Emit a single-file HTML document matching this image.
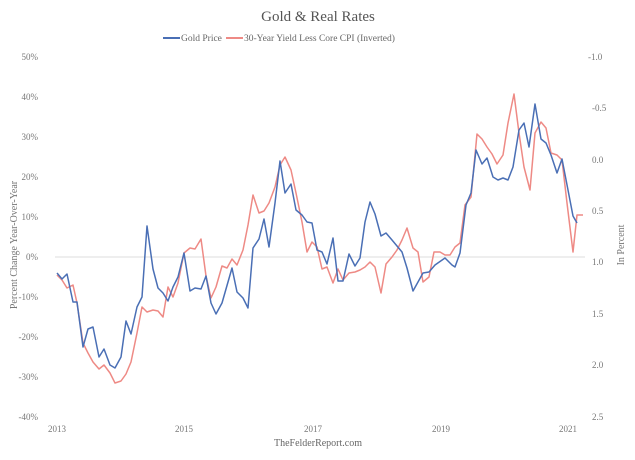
<!DOCTYPE html>
<html><head><meta charset="utf-8"><style>
html,body{margin:0;padding:0;background:#fff;}
svg{display:block;font-family:"Liberation Serif",serif;}
</style></head><body>
<svg width="635" height="460" viewBox="0 0 635 460">
<rect width="635" height="460" fill="#fff"/>
<text x="318" y="21" text-anchor="middle" font-size="15" fill="#555">Gold &amp; Real Rates</text>
<line x1="163" y1="38" x2="180" y2="38" stroke="#4a6fb5" stroke-width="2"/>
<text x="181" y="41" font-size="9.5" fill="#666">Gold Price</text>
<line x1="226" y1="38" x2="243" y2="38" stroke="#ee8a85" stroke-width="2"/>
<text x="244" y="41" font-size="9.5" fill="#666">30-Year Yield Less Core CPI (Inverted)</text>
<g font-size="9" fill="#777" text-anchor="end">
<text x="38" y="60">50%</text><text x="38" y="100">40%</text><text x="38" y="140">30%</text>
<text x="38" y="180">20%</text><text x="38" y="220">10%</text><text x="38" y="260">0%</text>
<text x="38" y="300">-10%</text><text x="38" y="340">-20%</text><text x="38" y="380">-30%</text>
<text x="38" y="420">-40%</text>
</g>
<g font-size="9" fill="#777" text-anchor="start">
<text x="588" y="60">-1.0</text><text x="592" y="111">-0.5</text><text x="592" y="163">0.0</text>
<text x="592" y="214">0.5</text><text x="592" y="265">1.0</text><text x="592" y="317">1.5</text>
<text x="592" y="368">2.0</text><text x="592" y="420">2.5</text>
</g>
<g font-size="9" fill="#777" text-anchor="middle">
<text x="57" y="432">2013</text><text x="184" y="432">2015</text><text x="313" y="432">2017</text>
<text x="441" y="432">2019</text><text x="568" y="432">2021</text>
</g>
<text transform="translate(17,245) rotate(-90)" text-anchor="middle" font-size="10" fill="#777">Percent Change Year-Over-Year</text>
<text transform="translate(624,245) rotate(-90)" text-anchor="middle" font-size="10" fill="#777">In Percent</text>
<text x="318" y="446" text-anchor="middle" font-size="10" fill="#666">TheFelderReport.com</text>
<line x1="55" y1="257" x2="585" y2="257" stroke="#dcdcdc" stroke-width="1"/>
<polyline fill="none" stroke="#ee8a85" stroke-width="1.5" stroke-linejoin="round" points="57,275 62,280 67,288 73,285 77,303 83,343 88,353 93,362 99,369 104,365 110,373 115,383 121,381 126,374 131,362 137,333 142,307 147,312 153,310 158,311 163,317 168,287 173,297 178,283 184,253 190,248 195,249 201,239 206,276 211,298 216,287 222,266 227,268 232,259 237,265 243,250 248,225 253,195 259,213 264,211 269,203 275,187 280,165 285,157 291,170 296,193 302,222 307,252 312,242 317,247 322,269 327,267 333,283 338,269 343,280 349,273 355,272 360,270 365,267 370,262 375,267 381,293 386,264 392,257 397,250 402,240 407,228 413,248 418,252 423,282 429,277 434,252 440,252 445,255 450,255 455,247 460,243 465,205 471,197 477,134 482,139 487,147 492,154 497,164 503,155 508,123 514,94 519,133 524,167 530,190 535,133 541,122 546,128 551,153 557,155 562,160 567,203 573,252 577,215 583,215"/>
<polyline fill="none" stroke="#4a6fb5" stroke-width="1.5" stroke-linejoin="round" points="57,273 62,279 67,274 73,302 77,302 83,347 88,329 93,327 99,357 104,349 110,365 115,368 121,357 126,321 131,334 137,307 142,297 147,226 153,269 158,288 163,293 168,301 173,287 178,277 184,253 190,291 195,288 201,289 206,276 211,303 216,314 222,303 232,268 237,292 243,298 248,308 253,248 259,239 264,219 269,247 275,203 280,161 285,193 291,184 296,210 302,215 307,222 312,223 317,250 322,252 327,264 333,238 338,281 343,281 349,254 355,266 360,258 365,222 370,202 375,214 381,236 386,233 392,240 402,252 407,268 413,291 423,273 429,272 435,265 445,258 452,265 455,267 460,253 466,205 471,193 476,150 482,164 487,158 493,177 498,180 503,178 508,180 513,167 519,130 524,123 529,147 535,104 541,139 546,143 551,155 557,173 562,159 568,190 573,216 577,223"/>
</svg>
</body></html>
